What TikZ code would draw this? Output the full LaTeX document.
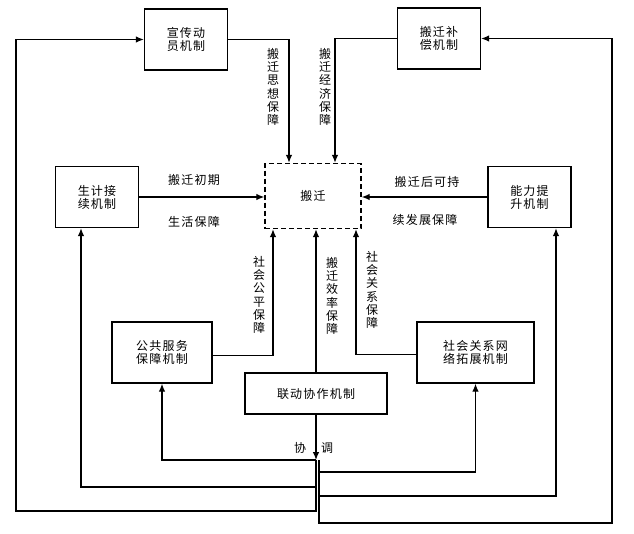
\documentclass[tikz,border=0pt]{standalone}
\usepackage{fontspec}
\setmainfont{Noto Sans CJK SC}[LetterSpace=10]
\usetikzlibrary{arrows.meta,positioning,calc}

\begin{document}
\begin{tikzpicture}[
  x=1pt,y=-1pt,
  box/.style={draw,line width=1.4pt,minimum width=#1,minimum height=61pt,inner sep=0pt,align=center,font=\fontsize{12}{13}\selectfont},
  box/.default=83pt,
  dbox/.style={draw,dashed,dash pattern=on 5pt off 3pt,line width=1.4pt,minimum width=96pt,minimum height=65pt,font=\fontsize{12}{13}\selectfont},
  lab/.style={inner sep=0pt,font=\fontsize{12}{13}\selectfont},
  vlab/.style={inner sep=0pt,align=center,font=\fontsize{12}{13.3}\selectfont},
  arr/.style={-{Latex[length=8pt,width=6.5pt]},line width=1.1pt},
]
  \useasboundingbox (0,0) rectangle (634,533);

  \node[box] (xc) at (186,39.5) {宣传动\\员机制};
  \node[box] (bc) at (439,38.5) {搬迁补\\偿机制};
  \node[box] (sj) at (97,197) {生计接\\续机制};
  \node[box] (nl) at (529.5,197) {能力提\\升机制};
  \node[dbox] (bq) at (313,196) {搬迁};
  \node[box=100pt] (gg) at (162,352.5) {公共服务\\保障机制};
  \node[box=117pt] (sh) at (475.5,352.5) {社会关系网\\络拓展机制};
  \node[box=142pt,minimum height=41pt] (ld) at (316,393.5) {联动协作机制};

  % labels
  \node[lab] (cq) at (194,180) {搬迁初期};
  \node[lab] (sh1) at (194,222) {生活保障};
  \node[lab] (hq) at (427,182) {搬迁后可持};
  \node[lab] (fz) at (425,220) {续发展保障};
  \node[vlab] (sx) at (273,87) {搬\\迁\\思\\想\\保\\障};
  \node[vlab] (jj) at (325,87) {搬\\迁\\经\\济\\保\\障};
  \node[vlab] (gp) at (259,295) {社\\会\\公\\平\\保\\障};
  \node[vlab] (xl) at (332,296) {搬\\迁\\效\\率\\保\\障};
  \node[vlab] (gx) at (372,290) {社\\会\\关\\系\\保\\障};
  \node[lab] (xie) at (300,448) {协};
  \node[lab] (tiao) at (327,448) {调};

  \draw[arr] (xc.east) -| ([xshift=-24pt]bq.north);
  \draw[arr] (bc.west) -| ([xshift=22pt]bq.north);
  \draw[arr] (sj.east) -- (sj.east -| bq.west);
  \draw[arr] (nl.west) -- (nl.west -| bq.east);
  \draw[arr] ([yshift=-3pt]gg.east) -| ([xshift=-40pt]bq.south);
  \draw[arr] ([yshift=-2pt]sh.west) -| ([xshift=43pt]bq.south);
  \draw[arr] (ld.north) -- (ld.north |- bq.south);

  % coordination branches
  \coordinate (hub) at (316,460);
  \coordinate (hubr) at (319,460);
  \coordinate (sjr) at (81,487);
  \coordinate (nlr) at (556,496);
  \coordinate (lo) at (16,511);
  \coordinate (ro) at (612,523);
  \draw[arr] (ld.south) -- (hub);
  \draw[arr] (hub) -| (gg.south);
  \draw[arr] (hubr) -- ++(0,12) -| (sh.south);
  \draw[arr] (hub) |- (sjr) -- (sjr |- sj.south);
  \draw[arr] (hubr) |- (nlr) -- (nlr |- nl.south);
  \draw[arr] (hub) |- (lo) |- (xc.west);
  \draw[arr] (hubr) |- (ro) |- (bc.east);
\end{tikzpicture}
\end{document}
